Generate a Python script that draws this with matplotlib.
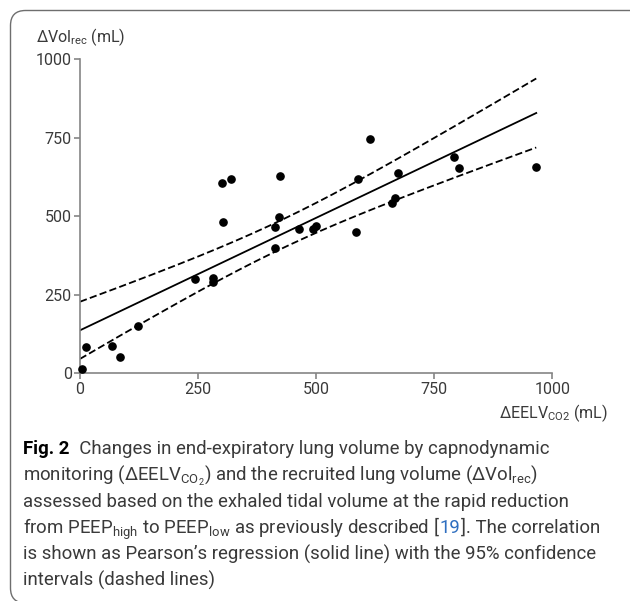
import numpy as np
import matplotlib
matplotlib.use("Agg")
import matplotlib.pyplot as plt
from matplotlib.patches import FancyBboxPatch

plt.rcParams["font.family"] = ["Roboto", "DejaVu Sans"]
plt.rcParams["mathtext.fontset"] = "custom"
plt.rcParams["mathtext.rm"] = "Roboto"
plt.rcParams["mathtext.bf"] = "Roboto:bold"

# values (mL)
eelv_co2 = [5, 12, 67, 85, 122, 243, 281, 281, 301, 320, 303, 413, 421, 413,
            423, 463, 494, 499, 584, 589, 613, 661, 667, 674, 792, 802, 966]
vol_rec = [14, 84, 88, 53, 152, 299, 304, 291, 607, 620, 482, 467, 498, 399,
           627, 461, 460, 468, 451, 619, 746, 542, 559, 639, 690, 653, 658]
ticks = [0, 250, 500, 750, 1000]
T_975 = 2.06  # t quantile, df = n - 2 = 25

W, H = 630, 601
GREY = "#858585"
TXT = "#3a3a3a"

fig = plt.figure(figsize=(W / 100, H / 100), dpi=100)


def px(x, y):
    """pixel (from top-left) -> figure fraction"""
    return x / W, 1 - y / H


# axes: x 0..1000 spans px 80..552, y 0..1000 spans px 373..59
l, b = px(80, 373.3)
ax = fig.add_axes([l, b, 472.3 / W, 314 / H])

x = np.array(eelv_co2, float)
y = np.array(vol_rec, float)
n = len(x)
slope, icpt = np.polyfit(x, y, 1)
resid = y - (icpt + slope * x)
s = np.sqrt((resid ** 2).sum() / (n - 2))
xm = x.mean()
sxx = ((x - xm) ** 2).sum()
xs = np.linspace(0, x.max(), 200)
fit = icpt + slope * xs
half = T_975 * s * np.sqrt(1 / n + (xs - xm) ** 2 / sxx)

ax.plot(xs, fit, color="black", lw=1.3)
ax.plot(xs, fit + half, color="black", lw=1.3, dashes=(4, 1.8))
ax.plot(xs, fit - half, color="black", lw=1.3, dashes=(4, 1.8))
ax.plot(x, y, "o", color="black", ms=5.2, clip_on=False, zorder=5)

ax.set_xlim(0, 1000)
ax.set_ylim(0, 1000)
ax.set_xticks(ticks)
ax.set_yticks(ticks)
for side in ("top", "right"):
    ax.spines[side].set_visible(False)
for side in ("left", "bottom"):
    ax.spines[side].set_color(GREY)
    ax.spines[side].set_linewidth(1.2)
ax.tick_params(direction="out", length=4, width=1.2, color=GREY,
               labelcolor=TXT, labelsize=11.5, pad=2)

fig.text(*px(36, 42), r"ΔVol$_{\mathrm{rec}}$ (mL)", fontsize=11.5,
         color=TXT, va="baseline", ha="left")
fig.text(*px(608, 418), r"ΔEELV$_{\mathrm{CO2}}$ (mL)", fontsize=11.5,
         color=TXT, va="baseline", ha="right")

# caption, drawn piece by piece so bold / blue parts line up
renderer = fig.canvas.get_renderer()


def line(x0, y0, pieces):
    xpos = x0
    for txt, kw in pieces:
        style = dict(fontsize=13.4, color=TXT, va="baseline", ha="left")
        style.update(kw)
        t = fig.text(*px(xpos, y0), txt, **style)
        xpos += t.get_window_extent(renderer).width


cap = [
    [("Fig. 2", dict(fontweight="bold", color="black")),
     ("  Changes in end-expiratory lung volume by capnodynamic", {})],
    [(r"monitoring (ΔEELV$_{\mathrm{CO_2}}$) and the recruited lung volume "
      r"(ΔVol$_{\mathrm{rec}}$)", {})],
    [("assessed based on the exhaled tidal volume at the rapid reduction", {})],
    [(r"from PEEP$_{\mathrm{high}}$ to PEEP$_{\mathrm{low}}$ as previously "
      r"described [", {}),
     ("19", dict(color="#2f6fc0")),
     ("]. The correlation", {})],
    [("is shown as Pearson’s regression (solid line) with the 95% confidence", {})],
    [("intervals (dashed lines)", {})],
]
for i, pieces in enumerate(cap):
    line(23, 454 + 26.4 * i, pieces)

frame = FancyBboxPatch((10.5, -2), 640, H - 10.5 + 2,
                       boxstyle="round,pad=0,rounding_size=15",
                       transform=None, fill=False, ec="#6e6e6e", lw=1.0)
fig.add_artist(frame)

fig.savefig("out.png", dpi=100)
